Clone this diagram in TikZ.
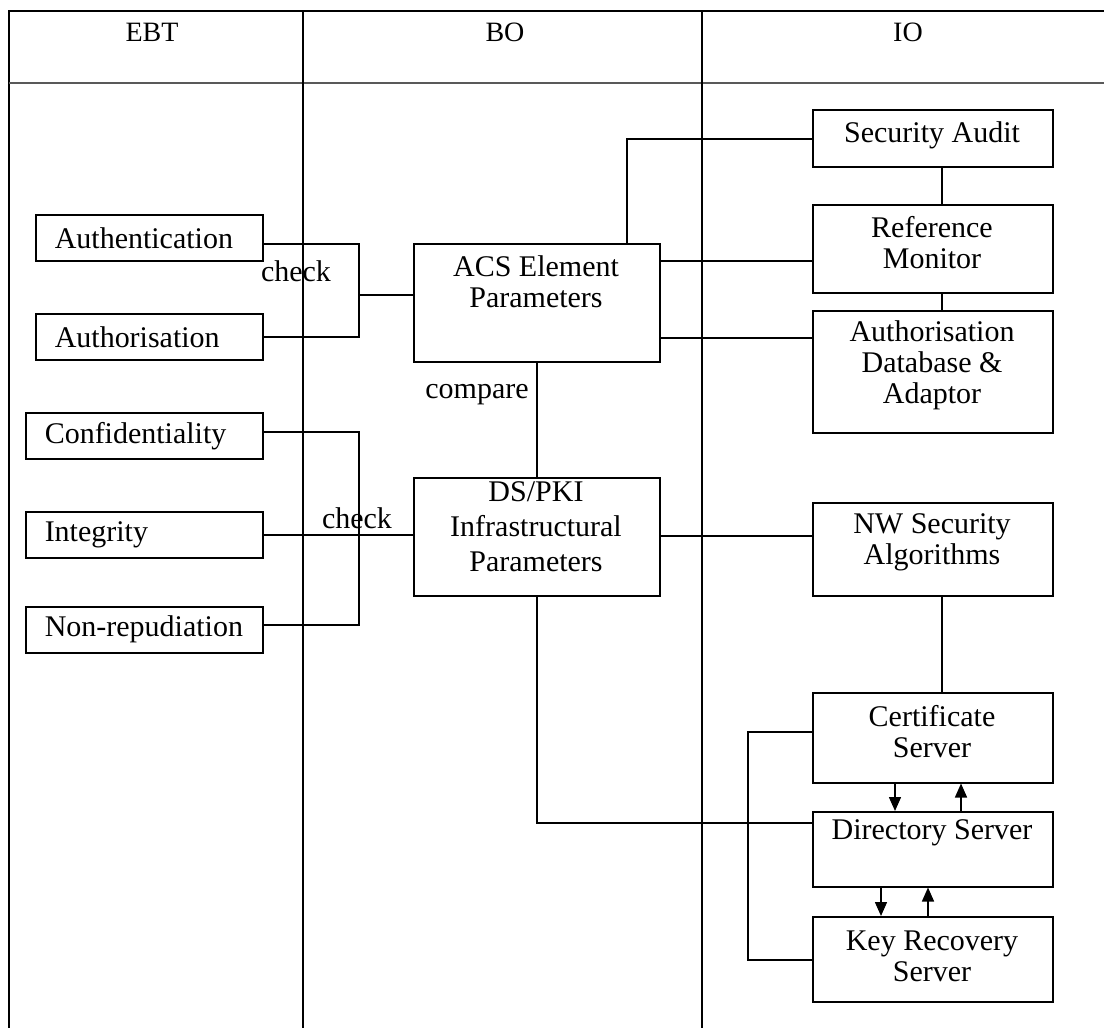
\documentclass[tikz,border=0pt]{standalone}
\usepackage{fontspec}
\setmainfont{Liberation Serif}
\usetikzlibrary{arrows.meta}

\begin{document}
\begin{tikzpicture}[x=1pt,y=-1pt,
  line width=1.5pt,
  every node/.style={font=\fontsize{30}{31}\selectfont},
  box/.style={draw, line width=1.5pt, rectangle, inner sep=0pt},
  lbox/.style={box, align=left, inner xsep=19pt, minimum height=46pt},
  txt/.style={align=center, inner sep=0pt},
  head/.style={inner sep=0pt, font=\fontsize{28}{30}\selectfont},
  wire/.style={line width=1.5pt},
  arr/.style={line width=1.5pt, -{Triangle[width=12pt,length=14pt]}}
]
\useasboundingbox (0,0) rectangle (1104,1028);

% lanes and heading row
\draw (9,1028) -- (9,11) -- (1104,11);
\draw[gray!70!black, line width=2.5pt] (9,83) -- (1104,83);
\draw (303,11) -- (303,1028);
\draw (702,11) -- (702,1028);
\node[head] (hEBT) at (152,32) {EBT};
\node[head] (hBO)  at (505,32) {BO};
\node[head] (hIO)  at (908,32) {IO};

% EBT column
\node[lbox, text width=189pt, anchor=north west] (auth)  at (35,214) {\mbox{Authentication}};
\node[lbox, text width=189pt, anchor=north west] (authz) at (35,313) {\mbox{Authorisation}};
\node[lbox, text width=199pt, anchor=north west] (conf)  at (25,412) {\mbox{Confidentiality}};
\node[lbox, text width=199pt, anchor=north west] (integ) at (25,511) {\mbox{Integrity}};
\node[lbox, text width=199pt, anchor=north west] (nonrep) at (25,606) {\mbox{Non-repudiation}};

% BO column
\node[box, minimum width=246pt, minimum height=118pt, anchor=north west] (acs) at (413,243) {};
\node[txt] (acsT) at (536,282) {ACS Element\\Parameters};
\node[box, minimum width=246pt, minimum height=118pt, anchor=north west] (ds) at (413,477) {};
\node[txt, font=\fontsize{30}{35}\selectfont] (dsT) at (536,527) {DS/PKI\\Infrastructural\\Parameters};

% IO column
\node[box, minimum width=240pt, minimum height=57pt, anchor=north west] (sa) at (812,109) {};
\node[txt] (saT) at (932,135) {Security Audit};
\node[box, minimum width=240pt, minimum height=88pt, anchor=north west] (rm) at (812,204) {};
\node[txt] (rmT) at (932,243) {Reference\\Monitor};
\node[box, minimum width=240pt, minimum height=122pt, anchor=north west] (adb) at (812,310) {};
\node[txt] (adbT) at (932,365) {Authorisation\\Database \&\\Adaptor};
\node[box, minimum width=240pt, minimum height=93pt, anchor=north west] (nw) at (812,502) {};
\node[txt] (nwT) at (932,542) {NW Security\\Algorithms};
\node[box, minimum width=240pt, minimum height=90pt, anchor=north west] (cert) at (812,692) {};
\node[txt] (certT) at (932,732) {Certificate\\Server};
\node[box, minimum width=240pt, minimum height=75pt, anchor=north west] (dir) at (812,811) {};
\node[txt] (dirT) at (932,833) {Directory Server};
\node[box, minimum width=240pt, minimum height=85pt, anchor=north west] (krs) at (812,916) {};
\node[txt] (krsT) at (932,956) {Key Recovery\\Server};

% EBT -> BO checks
\coordinate (busA) at (359,0);
\coordinate (busB) at (359,0);
\draw[wire] ([yshift=-6pt]auth.east) -- ([yshift=-6pt]auth.east -| busA) -- (authz.east -| busA) -- (authz.east);
\draw[wire] ([yshift=8pt]acs.west -| busA) -- ([yshift=8pt]acs.west);
\node[inner sep=0pt] (chk1) at (296,271) {check};

\draw[wire] ([yshift=4pt]conf.east) -- ([yshift=4pt]conf.east -| busB) -- ([yshift=5pt]nonrep.east -| busB) -- ([yshift=5pt]nonrep.east);
\draw[wire] (integ.east) -- (integ.east -| ds.west);
\node[inner sep=0pt] (chk2) at (357,518) {check};

% BO internal
\draw[wire] (acs.south -| 537,0) -- (ds.north -| 537,0);
\node[inner sep=0pt] (cmp) at (477,395) {compare};

% BO -> IO
\coordinate (saTap) at (627,0);
\draw[wire] (acs.north -| saTap) |- (sa.west |- 0,139);
\draw[wire] (acs.east |- 0,261) -- (rm.west |- 0,261);
\draw[wire] (acs.east |- 0,338) -- (adb.west |- 0,338);
\draw[wire] (ds.east |- 0,536) -- (nw.west |- 0,536);
\draw[wire] (ds.south -| 537,0) |- (dir.west |- 0,823);

% IO internal
\draw[wire] (sa.south -| 942,0) -- (rm.north -| 942,0);
\draw[wire] (rm.south -| 942,0) -- (adb.north -| 942,0);
\draw[wire] (nw.south -| 942,0) -- (cert.north -| 942,0);
\draw[wire] (cert.west |- 0,732) -| (748,960) -- (krs.west |- 0,960);
\draw[arr] (cert.south -| 895,0) -- (dir.north -| 895,0);
\draw[arr] (dir.north -| 961,0) -- (cert.south -| 961,0);
\draw[arr] (dir.south -| 881,0) -- (krs.north -| 881,0);
\draw[arr] (krs.north -| 928,0) -- (dir.south -| 928,0);
\end{tikzpicture}
\end{document}
